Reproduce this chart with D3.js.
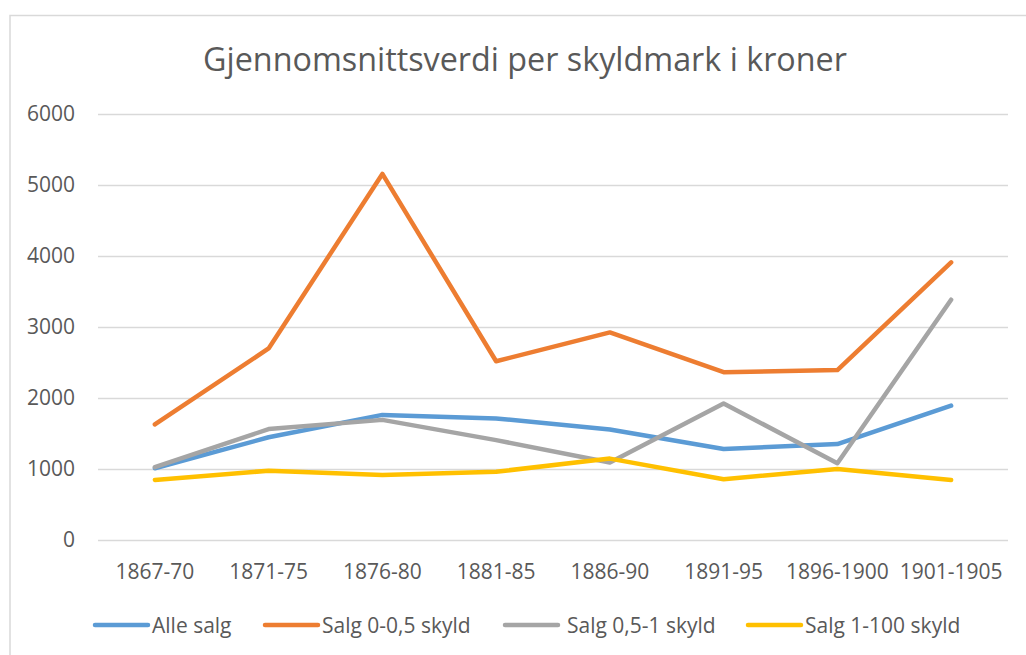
<!DOCTYPE html>
<html>
<head>
<meta charset="utf-8">
<script src="https://cdn.jsdelivr.net/npm/d3@7"></script>
<style>
  body { margin: 0; background: #fff; }
  text { font-family: "Open Sans", sans-serif; fill: #595959; }
</style>
</head>
<body>
<svg id="chart"></svg>
<script>
// data
var periods = ["1867-70", "1871-75", "1876-80", "1881-85", "1886-90", "1891-95", "1896-1900", "1901-1905"];
var alleSalg = [1010, 1445, 1760, 1710, 1555, 1280, 1350, 1890];
var salg0_05 = [1625, 2695, 5150, 2515, 2920, 2360, 2390, 3905];
var salg05_1 = [1025, 1560, 1690, 1405, 1090, 1920, 1080, 3380];
var salg1_100 = [845, 975, 915, 960, 1145, 855, 1000, 845];
var yTicks = [0, 1000, 2000, 3000, 4000, 5000, 6000];

var series = [
  { name: "Alle salg", values: alleSalg, color: "#5B9BD5" },
  { name: "Salg 0-0,5 skyld", values: salg0_05, color: "#ED7D31" },
  { name: "Salg 0,5-1 skyld", values: salg05_1, color: "#A5A5A5" },
  { name: "Salg 1-100 skyld", values: salg1_100, color: "#FFC000" }
];

var W = 1026, H = 655;
var plot = { left: 98, right: 1008, top: 113.5, bottom: 540 };

var svg = d3.select("svg#chart").attr("width", W).attr("height", H);

// chart border (right and bottom edges fall outside the picture)
svg.append("rect")
  .attr("x", 10).attr("y", 15.5)
  .attr("width", W + 10).attr("height", H + 10)
  .attr("fill", "#fff")
  .attr("stroke", "#d9d9d9")
  .attr("stroke-width", 1.5);

// title
svg.append("text")
  .attr("x", 525).attr("y", 71)
  .attr("text-anchor", "middle")
  .style("font-size", "32.3px")
  .text("Gjennomsnittsverdi per skyldmark i kroner");

var x = d3.scaleBand().domain(periods).range([plot.left, plot.right]);
var y = d3.scaleLinear().domain([0, 6000]).range([plot.bottom, plot.top]);

// gridlines
svg.append("g")
  .selectAll("line")
  .data(yTicks)
  .enter()
  .append("line")
  .attr("x1", plot.left).attr("x2", plot.right)
  .attr("y1", (d) => Math.round(y(d)) + 0.5)
  .attr("y2", (d) => Math.round(y(d)) + 0.5)
  .attr("stroke", "#d9d9d9")
  .attr("stroke-width", 1.3);

// y axis labels
var yAxis = d3.axisLeft(y).tickValues(yTicks).tickFormat(d3.format("d")).tickSize(0).tickPadding(0);
var gy = svg.append("g").attr("transform", "translate(75,0)").call(yAxis);
gy.select(".domain").remove();
gy.selectAll("text")
  .attr("fill", "#595959")
  .style("font-size", "21px")
  .style("font-family", "'Open Sans', sans-serif");

// x axis labels
var xAxis = d3.axisBottom(x).tickSize(0).tickPadding(0);
var gx = svg.append("g").attr("transform", "translate(0,564)").call(xAxis);
gx.select(".domain").remove();
gx.selectAll("text")
  .attr("fill", "#595959")
  .style("font-size", "21px")
  .style("font-family", "'Open Sans', sans-serif");

// lines
var line = d3.line()
  .x((d, i) => x(periods[i]) + x.bandwidth() / 2)
  .y((d) => y(d));

svg.append("g")
  .selectAll("path")
  .data(series)
  .enter()
  .append("path")
  .attr("d", (s) => line(s.values))
  .attr("fill", "none")
  .attr("stroke", (s) => s.color)
  .attr("stroke-width", 4.5)
  .attr("stroke-linecap", "round")
  .attr("stroke-linejoin", "round");

// legend
var legendX = [95, 265, 505, 748];
var leg = svg.append("g")
  .selectAll("g")
  .data(series)
  .enter()
  .append("g")
  .attr("transform", (s, i) => "translate(" + legendX[i] + ",625)");

leg.append("line")
  .attr("x1", 0).attr("x2", 53)
  .attr("y1", 0).attr("y2", 0)
  .attr("stroke", (s) => s.color)
  .attr("stroke-width", 4.5)
  .attr("stroke-linecap", "round");

leg.append("text")
  .attr("x", (s, i) => (i == 2 ? 62 : 57))
  .attr("y", 7.5)
  .style("font-size", "21px")
  .text((s) => s.name);
</script>
</body>
</html>
